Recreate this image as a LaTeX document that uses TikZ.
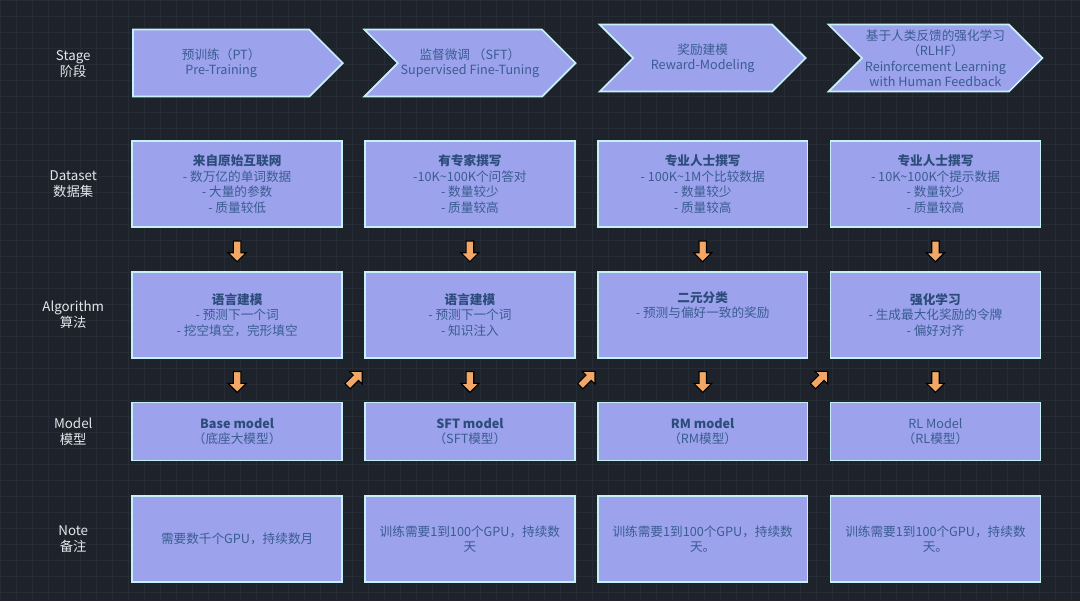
\documentclass[tikz,border=0pt]{standalone}
\usepackage{fontspec}
\setmainfont{Noto Sans CJK SC}
\usetikzlibrary{positioning,calc,shapes.symbols,shapes.arrows}
\definecolor{bgcolor}{HTML}{1E232B}
\definecolor{gridcolor}{HTML}{262C35}
\definecolor{boxfill}{HTML}{9CA3EC}
\definecolor{boxline}{HTML}{C6F1F7}
\definecolor{ink}{HTML}{3A5C91}
\definecolor{headink}{HTML}{2C4C7C}
\definecolor{labelcolor}{HTML}{E4E6EA}
\definecolor{arrowfill}{HTML}{F2A766}
\newcommand{\head}[1]{{\color{headink}\bfseries #1}}
\tikzset{
  stagebox/.style={
    signal,
    signal to=east,
    signal pointer angle=90,
    draw=boxline,
    line width=1.2pt,
    fill=boxfill,
    text=ink,
    align=center,
    minimum width=52.5mm,
    minimum height=16.75mm,
    inner sep=2pt,
    font=\fontsize{9}{11}\selectfont
  },
  midstage/.style={stagebox, signal from=west, minimum width=51.5mm},
  infobox/.style={
    draw=boxline,
    line width=1.2pt,
    fill=boxfill,
    text=ink,
    align=center,
    minimum width=52.5mm,
    minimum height=21.5mm,
    inner sep=2pt,
    font=\fontsize{9}{11}\selectfont
  },
  modelbox/.style={infobox, minimum height=14.5mm},
  rowlabel/.style={text=labelcolor, align=center, font=\fontsize{9.5}{11.5}\selectfont},
  blockarrow/.style={
    single arrow,
    draw=black,
    line width=0.8pt,
    fill=arrowfill,
    minimum height=5.2mm,
    minimum width=4.2mm,
    single arrow head extend=1.3mm,
    inner sep=0.8mm
  },
  downarrow/.style={blockarrow, rotate=-90},
  diagarrow/.style={blockarrow, rotate=45}
}
\begin{document}
\begin{tikzpicture}[node distance=10.75mm and 5.3mm]
  % background and grid
  \fill[bgcolor] (0,0) rectangle (27,-15.025);
  \draw[gridcolor, step=4mm, line width=0.4pt] (0,-15.025) grid (27,0);
  \useasboundingbox (0,0) rectangle (27,-15.025);
  \coordinate (labcol) at (1.825,0);

  % dataset row
  \node[infobox] (ds1) at (5.925,-4.6) {\head{来自原始互联网}\\- 数万亿的单词数据\\- 大量的参数\\- 质量较低};
  \node[infobox, right=of ds1] (ds2) {\head{有专家撰写}\\-10K\textasciitilde100K个问答对\\- 数量较少\\- 质量较高};
  \node[infobox, right=of ds2] (ds3) {\head{专业人士撰写}\\- 100K\textasciitilde1M个比较数据\\- 数量较少\\- 质量较高};
  \node[infobox, right=of ds3] (ds4) {\head{专业人士撰写}\\- 10K\textasciitilde100K个提示数据\\- 数量较少\\- 质量较高};

  % stages
  \node[stagebox, above=of ds1, xshift=-4mm] (pt) {预训练（PT）\\Pre-Training};
  \node[midstage, above=of ds2] (sft) {监督微调 （SFT）\\Supervised Fine-Tuning};
  \node[midstage, above=of ds3, yshift=1.25mm] (rm) {奖励建模\\Reward-Modeling};
  \node[midstage, above=of ds4, yshift=1.25mm] (rlhf) {基于人类反馈的强化学习\\（RLHF）\\Reinforcement Learning\\with Human Feedback};

  % algorithms
  \node[infobox, below=of ds1] (alg1) {\head{语言建模}\\- 预测下一个词\\- 挖空填空，完形填空};
  \node[infobox, below=of ds2] (alg2) {\head{语言建模}\\- 预测下一个词\\- 知识注入};
  \node[infobox, below=of ds3] (alg3) {\head{二元分类}\\- 预测与偏好一致的奖励\\\strut};
  \node[infobox, below=of ds4] (alg4) {\head{强化学习}\\- 生成最大化奖励的令牌\\- 偏好对齐};

  % models
  \node[modelbox, below=of alg1] (mod1) {\head{Base model}\\（底座大模型）};
  \node[modelbox, below=of alg2] (mod2) {\head{SFT model}\\（SFT模型）};
  \node[modelbox, below=of alg3] (mod3) {\head{RM model}\\（RM模型）};
  \node[modelbox, below=of alg4] (mod4) {RL Model\\（RL模型）};

  % notes
  \node[infobox, below=8.5mm of mod1] (note1) {需要数千个GPU，持续数月};
  \node[infobox, below=8.5mm of mod2] (note2) {训练需要1到100个GPU，持续数\\天};
  \node[infobox, below=8.5mm of mod3] (note3) {训练需要1到100个GPU，持续数\\天。};
  \node[infobox, below=8.5mm of mod4] (note4) {训练需要1到100个GPU，持续数\\天。};

  % row labels
  \node[rowlabel] (lstg) at (labcol |- ds1.center) [yshift=30mm] {Stage\\阶段};
  \node[rowlabel] (lds) at (labcol |- ds1.center) {Dataset\\数据集};
  \node[rowlabel] (lalg) at (labcol |- alg1.center) {Algorithm\\算法};
  \node[rowlabel] (lmod) at (labcol |- mod1.center) {Model\\模型};
  \node[rowlabel] (lnote) at (labcol |- note1.center) {Note\\备注};

  % arrows
  \foreach \i in {1,...,4}{
    \node[downarrow] (dn\i) at ($(ds\i.south)!0.5!(alg\i.north)$) {};
    \node[downarrow] (mn\i) at ($(alg\i.south)!0.5!(mod\i.north)$) {};
  }
  \foreach \i/\j in {1/2,2/3,3/4}{
    \node[diagarrow] (up\i) at ($(mod\i.north east)!0.5!(alg\j.south west)$) {};
  }
\end{tikzpicture}
\end{document}
